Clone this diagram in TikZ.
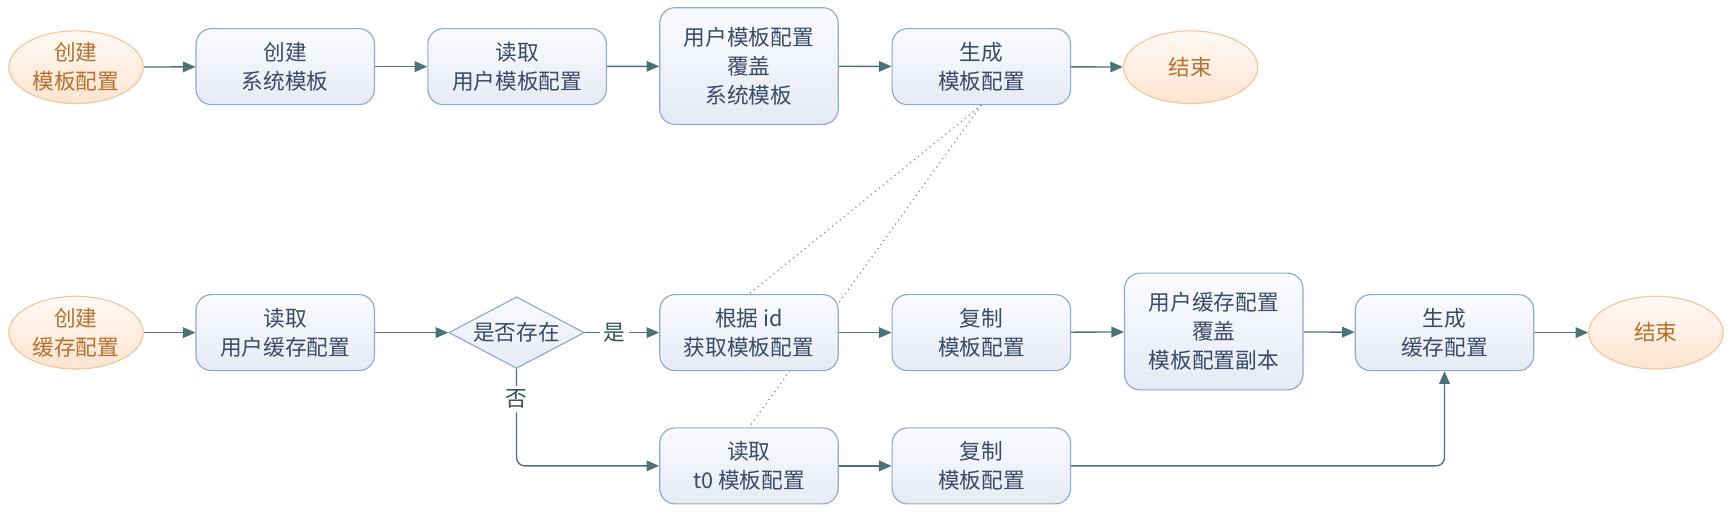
\documentclass[tikz,border=0pt]{standalone}
\usepackage{fontspec}
\setmainfont{Noto Sans CJK SC}
\usetikzlibrary{shapes,arrows.meta}
\pgfdeclarelayer{edgelayer}
\pgfdeclarelayer{nodelayer}
\pgfsetlayers{edgelayer,nodelayer,main}
\definecolor{boxline}{HTML}{8FA9D6}
\definecolor{boxtop}{HTML}{FAFBFE}
\definecolor{boxbottom}{HTML}{E5EAF4}
\definecolor{boxtext}{HTML}{3A4A68}
\definecolor{endline}{HTML}{F5C59C}
\definecolor{endtop}{HTML}{FFF9F4}
\definecolor{endbottom}{HTML}{FDE4D0}
\definecolor{endtext}{HTML}{B5702E}
\definecolor{arrowcol}{HTML}{4A7377}
\tikzset{font=\fontsize{11.2}{15}\selectfont}
\tikzstyle{none}=[inner sep=0pt]
\tikzstyle{process}=[rectangle,rounded corners=0.28cm,draw=boxline,line width=0.6pt,top color=boxtop,bottom color=boxbottom,minimum width=3.24cm,minimum height=1.38cm,align=center,text=boxtext,inner sep=2pt]
\tikzstyle{tall}=[process,minimum height=2.12cm]
\tikzstyle{terminal}=[ellipse,draw=endline,line width=0.6pt,top color=endtop,bottom color=endbottom,minimum width=2.44cm,minimum height=1.32cm,align=center,text=endtext,inner sep=0pt]
\tikzstyle{decision}=[diamond,draw=boxline,line width=0.6pt,top color=boxtop,bottom color=boxbottom,minimum width=2.46cm,minimum height=1.3cm,aspect=1.9,inner sep=0pt,text=boxtext]
\tikzstyle{arrow}=[draw=arrowcol,line width=0.7pt,-{Triangle[length=6.5pt,width=5.5pt]}]
\tikzstyle{link}=[draw=arrowcol!80,dotted,line width=0.6pt]
\tikzstyle{label}=[fill=white,inner sep=2pt,text=arrowcol!70!black]

\begin{document}
\begin{tikzpicture}
	\useasboundingbox (0,0) rectangle (31.36,-9.28);
	\begin{pgfonlayer}{nodelayer}
		\node [style=terminal] (0) at (1.38, -1.22) {创建\\模板配置};
		\node [style=process] (1) at (5.18, -1.21) {创建\\系统模板};
		\node [style=process] (2) at (9.39, -1.21) {读取\\用户模板配置};
		\node [style=tall] (3) at (13.6, -1.2) {用户模板配置\\覆盖\\系统模板};
		\node [style=process] (4) at (17.82, -1.21) {生成\\模板配置};
		\node [style=terminal] (5) at (21.62, -1.22) {结束};
		\node [style=terminal] (6) at (1.38, -6.04) {创建\\缓存配置};
		\node [style=process] (7) at (5.18, -6.04) {读取\\用户缓存配置};
		\node [style=decision] (8) at (9.38, -6.04) {是否存在};
		\node [style=process] (9) at (13.6, -6.04) {根据 id\\获取模板配置};
		\node [style=process] (10) at (17.82, -6.04) {复制\\模板配置};
		\node [style=tall] (11) at (22.04, -6.02) {用户缓存配置\\覆盖\\模板配置副本};
		\node [style=process] (12) at (26.23, -6.04) {生成\\缓存配置};
		\node [style=terminal] (13) at (30.07, -6.04) {结束};
		\node [style=process] (14) at (13.6, -8.46) {读取\\t0 模板配置};
		\node [style=process] (15) at (17.82, -8.46) {复制\\模板配置};
	\end{pgfonlayer}
	\begin{pgfonlayer}{edgelayer}
		\draw [style=arrow] (0) to (1);
		\draw [style=arrow] (1) to (2);
		\draw [style=arrow] (2) to (3);
		\draw [style=arrow] (3) to (4);
		\draw [style=arrow] (4) to (5);
		\draw [style=arrow] (6) to (7);
		\draw [style=arrow] (7) to (8);
		\draw [style=arrow] (8) to node [style=label, pos=0.4] {是} (9);
		\draw [style=arrow] (9) to (10);
		\draw [style=arrow] (10) to (11);
		\draw [style=arrow] (11) to (12);
		\draw [style=arrow] (12) to (13);
		\draw [style=arrow, rounded corners=0.15cm] (8.south) |- node [style=label, pos=0.155] {否} (14.west);
		\draw [style=arrow] (14) to (15);
		\draw [style=arrow, rounded corners=0.15cm] (15.east) -| (12.south);
		\draw [style=link] (4.south) to (9.north);
		\draw [style=link] (4.south) to (14.north);
	\end{pgfonlayer}
\end{tikzpicture}
\end{document}
